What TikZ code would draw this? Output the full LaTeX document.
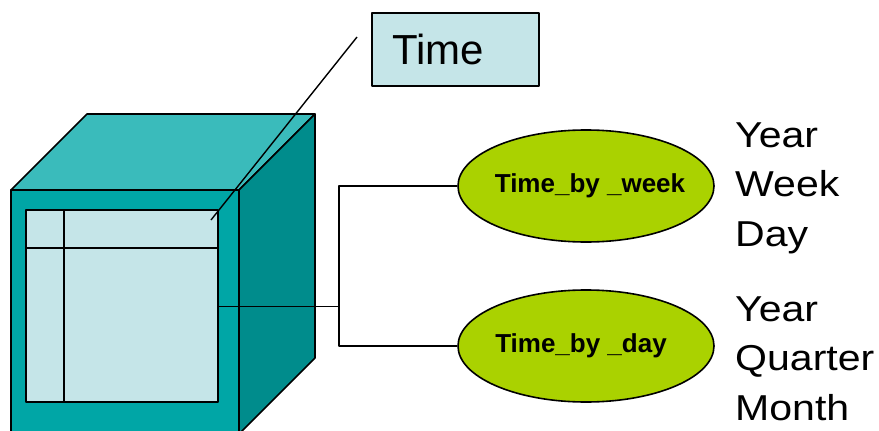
\documentclass[tikz,border=0pt]{standalone}
\usepackage{fontspec}
\usetikzlibrary{shapes.geometric}
\setmainfont{Liberation Sans}
\newfontfamily\widefont[FakeStretch=1.14]{Liberation Sans}
\definecolor{topface}{RGB}{58,187,187}
\definecolor{frontface}{RGB}{0,166,166}
\definecolor{sideface}{RGB}{0,140,140}
\definecolor{panelfill}{RGB}{197,229,232}
\definecolor{ovalfill}{RGB}{170,210,0}
\begin{document}
\begin{tikzpicture}[x=1pt,y=-1pt,line join=round,
  edge/.style={draw=black,line width=1.6pt},
  thin edge/.style={draw=black,line width=1.4pt},
  labelbox/.style={rectangle,edge,fill=panelfill,minimum width=167pt,minimum height=73pt,
    text width=127pt,align=left,inner xsep=20pt,font=\fontsize{42}{50}\selectfont},
  oval/.style={ellipse,edge,fill=ovalfill,minimum width=256pt,minimum height=112pt,inner sep=0pt,
    font=\fontsize{26}{30}\selectfont\bfseries},
  levels/.style={align=left,inner sep=0pt,anchor=base west,font=\widefont\fontsize{36}{49.5}\selectfont}]
\useasboundingbox (0,0) rectangle (879,431);
\begin{scope}
\clip (0,0) rectangle (879,431);
% cube
\filldraw[edge,fill=topface] (11,190) -- (87,114) -- (315,114) -- (239,190) -- cycle;
\filldraw[edge,fill=sideface] (239,190) -- (315,114) -- (315,358) -- (239,434) -- cycle;
\filldraw[edge,fill=frontface] (11,190) rectangle (239,445);
\end{scope}
\node[rectangle,thin edge,fill=panelfill,minimum width=192pt,minimum height=192pt,inner sep=0pt] (panel) at (122,306) {};
\draw[thin edge] (64,210) -- (64,402);
\draw[thin edge] (26,248) -- (218,248);
% label box and pointer
\node[labelbox] (time) at (455.5,49.5) {Time};
\coordinate (ptrA) at (211,220);
\coordinate (ptrB) at (357,37);
\draw[thin edge] (ptrA) -- (ptrB);
% hierarchies
\node[oval] (week) at (586,186) {\makebox[0pt]{\hspace{8pt}Time\_by \_week}};
\node[oval] (day) at (586,346) {\makebox[0pt]{\hspace{-10pt}Time\_by \_day}};
\coordinate (j) at (339,306.5);
\draw[thin edge] (panel.east |- j) -- (j);
\draw[thin edge] (week.west) -| (j) |- (day.west);
\node[levels] (wl) at (735,246) {Year\\Week\\Day};
\node[levels] (dl) at (735,420) {Year\\Quarter\\Month};
\end{tikzpicture}
\end{document}
